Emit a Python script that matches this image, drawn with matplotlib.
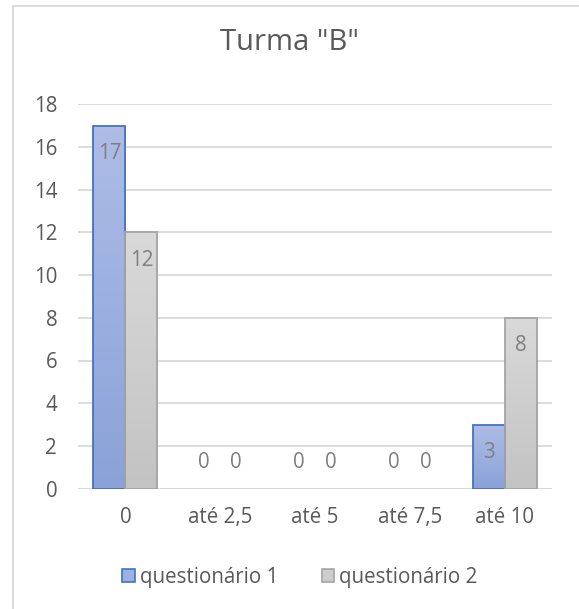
import matplotlib
matplotlib.use("Agg")
import matplotlib.pyplot as plt
import numpy as np
from matplotlib.patches import Patch
from matplotlib.lines import Line2D

categories = ["0", "até 2,5", "até 5", "até 7,5", "até 10"]
q1 = [17, 0, 0, 0, 3]
q2 = [12, 0, 0, 0, 8]
series_names = ["questionário 1", "questionário 2"]
title = 'Turma "B"'
yticks = [0, 2, 4, 6, 8, 10, 12, 14, 16, 18]

plt.rcParams['font.family'] = ['Open Sans', 'DejaVu Sans']
TEXT = '#595959'
LABEL = '#7f7f7f'
FS = 14.8

fig = plt.figure(figsize=(5.79, 6.09), dpi=100)
fig.patch.set_facecolor('white')
ax = fig.add_axes([78/579, 1-488.6/609, 474/579, (488.6-104.3)/609])

x = np.arange(len(categories))
w = 0.3376
fills = [('#aebce6', '#8aa2d9', '#4472c4'), ('#d9d9d9', '#c3c3c3', '#a5a5a5')]
for i, (vals, (ctop, cbot, edge)) in enumerate(zip([q1, q2], fills)):
    xs = x + (i - 0.5) * w
    c1 = np.array(matplotlib.colors.to_rgb(ctop))
    c2 = np.array(matplotlib.colors.to_rgb(cbot))
    for xx, v in zip(xs, vals):
        if v > 0:
            b = ax.bar(xx, v, width=w, color='none', edgecolor=edge, linewidth=1.3, zorder=3)[0]
            t = np.linspace(0, 1, 100)[:, None]
            grad = (c1[None, :] * (1 - t) + c2[None, :] * t)[:, None, :]
            x0 = b.get_x(); x1 = x0 + b.get_width()
            im = ax.imshow(grad, extent=[x0, x1, 0, v], aspect='auto', zorder=2, origin='upper')
            im.set_clip_path(b)
            ax.annotate(str(v), (xx, v), xytext=(0, -20.2), textcoords='offset points',
                        ha='center', va='center', fontsize=FS, color=LABEL, zorder=5)
        else:
            ax.annotate(str(v), (xx, 0), xytext=(0, 18.7), textcoords='offset points',
                        ha='center', va='center', fontsize=FS, color=LABEL, zorder=5)

ax.set_xlim(-0.5, len(categories) - 0.5)
ax.set_ylim(0, 18)
ax.set_yticks(yticks)
ax.set_xticks(x)
ax.set_xticklabels(categories)
ax.grid(axis='y', color='#d9d9d9', linewidth=1.3, zorder=0)
ax.set_axisbelow(True)
for s in ax.spines.values():
    s.set_visible(False)
ax.tick_params(axis='both', length=0, labelsize=FS, colors=TEXT)
ax.tick_params(axis='y', pad=15)
ax.tick_params(axis='x', pad=13)
ax.axhline(0, color='#d9d9d9', linewidth=1.3, zorder=1)

fig.text(290/579, 1-42/609, title, ha='center', va='center', fontsize=21, color=TEXT)

handles = [Patch(facecolor='#9db0e0', edgecolor='#4472c4', linewidth=1.2),
           Patch(facecolor='#cdcdcd', edgecolor='#a5a5a5', linewidth=1.2)]
leg = fig.legend(handles, series_names, loc='center', bbox_to_anchor=(300/579, 1-577/609),
                 ncol=2, frameon=False, fontsize=FS, handlelength=0.62, handleheight=0.62,
                 handletextpad=0.25, columnspacing=2.1)
for t in leg.get_texts():
    t.set_color(TEXT)

# outer border (top and left visible)
fig.add_artist(Line2D([13/579, 1], [1-6/609, 1-6/609], color='#d9d9d9', linewidth=1.3,
                      transform=fig.transFigure))
fig.add_artist(Line2D([13/579, 13/579], [0, 1-6/609], color='#d9d9d9', linewidth=1.3,
                      transform=fig.transFigure))

fig.savefig('out.png', dpi=100, facecolor='white')
